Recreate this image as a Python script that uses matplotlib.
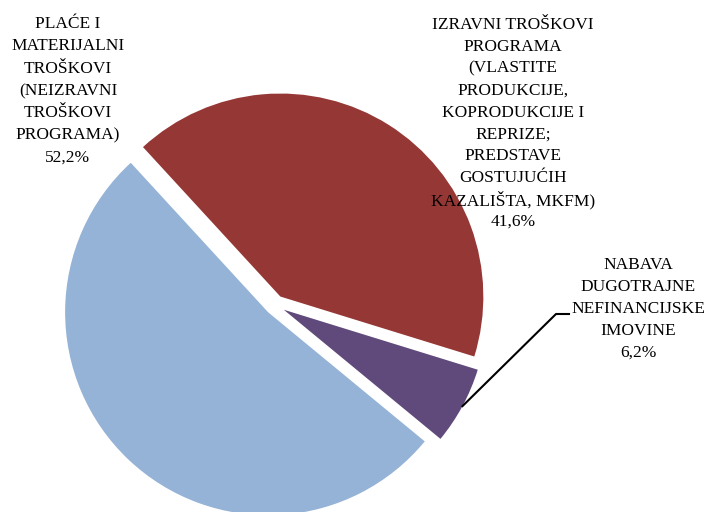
import matplotlib.pyplot as plt
import numpy as np

# Data
labels = [
    ["PLAĆE I", "MATERIJALNI", "TROŠKOVI", "(NEIZRAVNI", "TROŠKOVI", "PROGRAMA)"],
    ["IZRAVNI TROŠKOVI", "PROGRAMA", "(VLASTITE", "PRODUKCIJE,", "KOPRODUKCIJE I",
     "REPRIZE;", "PREDSTAVE", "GOSTUJUĆIH", "KAZALIŠTA, MKFM)"],
    ["NABAVA", "DUGOTRAJNE", "NEFINANCIJSKE", "IMOVINE"],
]
shares = [52.2, 41.6, 6.2]
colors = ["#95B3D7", "#953735", "#604A7B"]

plt.rcParams["font.family"] = ["Liberation Serif", "DejaVu Serif"]

fig = plt.figure(figsize=(7.04, 5.12), dpi=100)
ax = fig.add_axes([0, 0, 1, 1])

# explode is in data units (pixels here)
wedges, _ = ax.pie(
    shares,
    colors=colors,
    startangle=-39.5,
    counterclock=False,
    explode=[10, 10, 10],
    center=(275, 207),
    radius=203,
    frame=True,
)
ax.set_xlim(0, 704)
ax.set_ylim(0, 512)
ax.axis("off")

# label texts, one line at a time for even spacing
pct = [f"{v:.1f}%".replace(".", ",") for v in shares]
label_pos = [(68, 488, 22.3), (513, 487, 21.9), (638, 247, 22.0)]
for lab, p, (x, y0, dy) in zip(labels, pct, label_pos):
    for i, line in enumerate(lab + [p]):
        ax.text(x, y0 - i * dy, line, ha="center", va="center",
                fontsize=12.5, color="black")

# leader line for the small slice
w = wedges[2]
mid = np.deg2rad((w.theta1 + w.theta2) / 2)
cx, cy = w.center
px, py = cx + w.r * np.cos(mid), cy + w.r * np.sin(mid)
ax.plot([px, 556, 569], [py, 198, 198], color="black", lw=1.5)

fig.savefig("out.png", dpi=100)
